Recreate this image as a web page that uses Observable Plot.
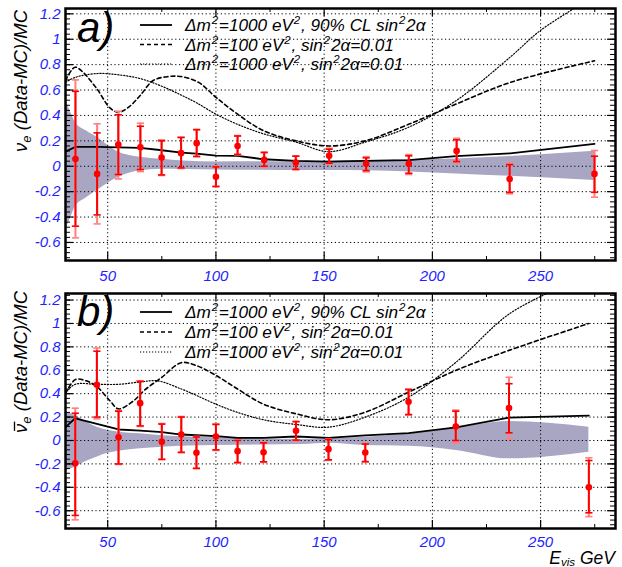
<!DOCTYPE html>
<html><head><meta charset="utf-8">
<script src="https://cdn.jsdelivr.net/npm/d3@7"></script>
<script src="https://cdn.jsdelivr.net/npm/@observablehq/plot@0.6"></script>
<style>
body{margin:0;background:#fff;}
#wrap{position:relative;width:622px;height:567px;overflow:hidden;background:#fff;}
#wrap svg{position:absolute;left:0;}
g[aria-label$="tick label"]{fill:#1f1fff;font-style:italic;}
</style></head><body><div id="wrap"></div>
<script>
// ---------- x ticks / y ticks ----------
const xMajor = [50, 100, 150, 200, 250];
const xMinor = [75, 125, 175, 225, 275];
const yMajor = [-0.6, -0.4, -0.2, 0, 0.2, 0.4, 0.6, 0.8, 1, 1.2];
const yMinor = d3.range(-0.72, 1.25, 0.04).map(v => Math.round(v * 100) / 100);

// ---------- panel a) nu_e ----------
const xA      = [35.1, 45.1, 54.9, 65.1, 74.9, 83.9, 91.1, 100, 110, 122.3, 136.9, 152.3, 169.4, 189.1, 211.2, 235.7, 274.9];
const yA      = [0.057, -0.06, 0.171, 0.15, 0.069, 0.103, 0.181, -0.083, 0.16, 0.05, 0.029, 0.082, 0.019, 0.019, 0.121, -0.1, -0.06];
const statLoA = [-0.472, -0.383, -0.065, -0.026, -0.068, -0.013, 0.078, -0.158, 0.094, 0.0, -0.024, 0.024, -0.034, -0.055, 0.037, -0.205, -0.205];
const statHiA = [0.59, 0.263, 0.405, 0.315, 0.2, 0.226, 0.287, -0.005, 0.238, 0.108, 0.079, 0.134, 0.066, 0.082, 0.208, 0.013, 0.079];
const totLoA  = [-0.564, -0.454, -0.1, -0.042, -0.073, -0.018, 0.074, -0.162, 0.09, -0.004, -0.028, 0.016, -0.044, -0.065, 0.027, -0.217, -0.244];
const totHiA  = [0.68, 0.334, 0.433, 0.339, 0.208, 0.23, 0.291, 0.0, 0.242, 0.112, 0.082, 0.142, 0.076, 0.092, 0.22, 0.024, 0.124];

const bandXA  = [30.5, 33, 35, 40, 45, 50, 55, 60, 65, 75, 85, 100, 120, 140, 152, 170, 190, 211, 236, 274.9];
const bandHiA = [0.53, 0.42, 0.347, 0.28, 0.23, 0.165, 0.11, 0.085, 0.071, 0.055, 0.042, 0.034, 0.035, 0.037, 0.04, 0.045, 0.05, 0.058, 0.076, 0.118];
const bandLoA = [-0.506, -0.4, -0.32, -0.25, -0.19, -0.135, -0.087, -0.055, -0.036, -0.024, -0.026, -0.03, -0.032, -0.034, -0.034, -0.036, -0.045, -0.06, -0.079, -0.113];

const solidA  = [[30.5,0.115],[35,0.152],[45,0.152],[55,0.148],[65,0.145],[74,0.128],[84,0.108],[91,0.1],[100,0.084],[110,0.082],[122,0.055],[137,0.042],[152,0.037],[169,0.043],[189,0.048],[211,0.08],[236,0.102],[274.9,0.176]];
const dashA   = [[30.5,0.675],[33,0.75],[35,0.78],[38,0.75],[45,0.61],[51,0.46],[55,0.425],[60,0.47],[65,0.557],[71,0.675],[78,0.706],[84,0.706],[92,0.66],[100,0.543],[110,0.41],[122,0.28],[137,0.2],[152,0.16],[169,0.2],[189,0.33],[211,0.49],[236,0.66],[274.9,0.83]];
const dotA    = [[30.5,0.66],[35,0.7],[45,0.73],[55,0.72],[65,0.69],[75,0.63],[84,0.56],[91,0.5],[100,0.41],[110,0.33],[122,0.255],[137,0.19],[152,0.115],[169,0.19],[189,0.307],[211,0.517],[236,0.86],[250,1.07],[274.9,1.34]];

// ---------- panel b) anti-nu_e ----------
const xB      = [35, 45, 55, 65, 75, 84, 91, 100, 110, 122, 137, 152, 169, 189, 210.8, 235.4, 272.3];
const yB      = [-0.194, 0.476, 0.028, 0.319, -0.011, 0.051, -0.105, 0.034, -0.091, -0.1, 0.083, -0.074, -0.103, 0.331, 0.12, 0.277, -0.4];
const statLoB = [-0.64, 0.2, -0.2, 0.125, -0.16, -0.1, -0.237, -0.08, -0.188, -0.182, 0.003, -0.165, -0.18, 0.222, 0.0, 0.066, -0.618];
const statHiB = [0.233, 0.763, 0.25, 0.505, 0.14, 0.2, 0.03, 0.137, 0.0, -0.02, 0.16, 0.01, -0.03, 0.435, 0.25, 0.485, -0.171];
const totLoB  = [-0.678, 0.185, -0.205, 0.12, -0.165, -0.105, -0.242, -0.085, -0.193, -0.187, -0.002, -0.17, -0.185, 0.217, -0.02, 0.011, -0.65];
const totHiB  = [0.276, 0.79, 0.256, 0.51, 0.145, 0.205, 0.035, 0.142, 0.005, -0.015, 0.165, 0.015, -0.025, 0.44, 0.26, 0.54, -0.148];

const bandXB  = [30.5, 35, 40, 45, 50, 55, 65, 75, 100, 120, 140, 152, 169, 189, 211, 235.4, 272.3];
const bandHiB = [0.245, 0.214, 0.16, 0.114, 0.088, 0.071, 0.057, 0.04, 0.023, 0.015, 0.009, 0.017, 0.028, 0.055, 0.105, 0.162, 0.114];
const bandLoB = [-0.256, -0.228, -0.18, -0.143, -0.11, -0.092, -0.071, -0.057, -0.043, -0.038, -0.034, -0.023, -0.043, -0.05, -0.085, -0.157, -0.1];

const solidB  = [[30.5,0.114],[35,0.19],[45,0.142],[55,0.094],[65,0.085],[75,0.071],[84,0.051],[100,0.037],[110,0.023],[122,0.023],[137,0.034],[152,0.023],[169,0.043],[189,0.063],[211,0.112],[235.4,0.196],[272.3,0.213]];
const dashB   = [[30.5,0.4],[35,0.52],[40,0.51],[45,0.46],[51,0.34],[55,0.27],[62,0.34],[67,0.43],[75,0.54],[84,0.665],[91,0.64],[100,0.556],[110,0.44],[122,0.31],[137,0.228],[152,0.177],[169,0.242],[189,0.413],[211,0.6],[235.4,0.77],[272.3,1.0]];
const dotB    = [[30.5,0.41],[35,0.48],[45,0.48],[55,0.48],[65,0.5],[73,0.51],[84,0.44],[91,0.385],[100,0.31],[110,0.24],[122,0.177],[137,0.137],[152,0.114],[169,0.2],[189,0.37],[211,0.67],[235.4,1.08],[258,1.3]];

// "^" marks a superscript character
const legendLabels = [
  "Δm^2=1000 eV^2, 90% CL sin^22α",
  "Δm^2=100 eV^2, sin^22α=0.01",
  "Δm^2=1000 eV^2, sin^22α=0.01"
];

// ---------- drawing ----------
const BLUE = "#1f1fff";
const RED = "#ff0000";
const PALE = "#ff7f7f";
const BAND = "#a8a6c2";
const FONT = "'Liberation Sans', Arial, Helvetica, sans-serif";
const W = 622, ML = 65, MR = 7;
const cap = {draw(ctx, size) { const w = Math.sqrt(size / Math.PI); ctx.moveTo(-w, 0); ctx.lineTo(w, 0); }};
const fmtY = d => String(Math.round(d * 10) / 10);

function panel({xs, ys, sLo, sHi, tLo, tHi, bx, bHi, bLo, solid, dash, dot, height, mb, yDomain, xPad}) {
  const pts = xs.map((x, i) => ({x, y: ys[i], sLo: sLo[i], sHi: sHi[i], tLo: tLo[i], tHi: tHi[i]}));
  const band = bx.map((x, i) => ({x, hi: bHi[i], lo: bLo[i]}));
  const pw = W - ML - MR, ph = height - 8 - mb;
  return Plot.plot({
    width: W, height, marginTop: 8, marginBottom: mb, marginLeft: ML, marginRight: MR,
    x: {domain: [30.5, 284.6]},
    y: {domain: yDomain},
    style: {fontFamily: FONT, background: "white", overflow: "visible"},
    marks: [
      Plot.areaY(band, {x: "x", y1: "lo", y2: "hi", fill: BAND, curve: "monotone-x"}),
      Plot.ruleY(yMajor, {stroke: "#000", strokeWidth: 1, strokeDasharray: "1.2,2.6"}),
      Plot.ruleX(xMajor, {stroke: "#000", strokeWidth: 1, strokeDasharray: "1.2,2.6"}),
      Plot.line(dot, {x: d => d[0], y: d => d[1], stroke: "#000", strokeWidth: 1.2, strokeDasharray: "1.2,1.8", curve: "catmull-rom", clip: true}),
      Plot.line(dash, {x: d => d[0], y: d => d[1], stroke: "#000", strokeWidth: 1.6, strokeDasharray: "4,3", curve: "catmull-rom", clip: true}),
      Plot.line(solid, {x: d => d[0], y: d => d[1], stroke: "#000", strokeWidth: 1.8, clip: true}),
      Plot.ruleX(pts, {x: "x", y1: "tLo", y2: "tHi", stroke: PALE, strokeWidth: 2}),
      Plot.dot(pts, {x: "x", y: "tHi", symbol: cap, r: 3.6, stroke: PALE, strokeWidth: 1.6}),
      Plot.dot(pts, {x: "x", y: "tLo", symbol: cap, r: 3.6, stroke: PALE, strokeWidth: 1.6}),
      Plot.ruleX(pts, {x: "x", y1: "sLo", y2: "sHi", stroke: RED, strokeWidth: 2}),
      Plot.dot(pts, {x: "x", y: "sHi", symbol: cap, r: 3.6, stroke: RED, strokeWidth: 1.6}),
      Plot.dot(pts, {x: "x", y: "sLo", symbol: cap, r: 3.6, stroke: RED, strokeWidth: 1.6}),
      Plot.dot(pts, {x: "x", y: "y", r: 3.3, fill: RED}),
      // inward ticks, all four sides
      Plot.tickY(yMajor, {y: d => d, insetRight: pw - 8, stroke: "#000", strokeWidth: 1.2}),
      Plot.tickY(yMinor, {y: d => d, insetRight: pw - 5, stroke: "#000", strokeWidth: 1}),
      Plot.tickY(yMajor, {y: d => d, insetLeft: pw - 8, stroke: "#000", strokeWidth: 1.2}),
      Plot.tickY(yMinor, {y: d => d, insetLeft: pw - 5, stroke: "#000", strokeWidth: 1}),
      Plot.tickX(xMajor, {x: d => d, insetTop: ph - 8, stroke: "#000", strokeWidth: 1.2}),
      Plot.tickX(xMinor, {x: d => d, insetTop: ph - 4, stroke: "#000", strokeWidth: 1}),
      Plot.tickX(xMajor, {x: d => d, insetBottom: ph - 8, stroke: "#000", strokeWidth: 1.2}),
      Plot.tickX(xMinor, {x: d => d, insetBottom: ph - 4, stroke: "#000", strokeWidth: 1}),
      Plot.frame({stroke: "#000", strokeWidth: 2.5}),
      Plot.axisY({ticks: yMajor, tickSize: 0, tickPadding: 5, tickFormat: fmtY, color: BLUE, fontSize: 15, fontStyle: "italic", label: null}),
      Plot.axisX({ticks: xMajor, tickSize: 0, tickPadding: xPad, tickFormat: d => String(d), color: BLUE, fontSize: 15, fontStyle: "italic", label: null})
    ]
  });
}

const wrap = document.getElementById("wrap");
const pa = panel({xs: xA, ys: yA, sLo: statLoA, sHi: statHiA, tLo: totLoA, tHi: totHiA,
  bx: bandXA, bHi: bandHiA, bLo: bandLoA, solid: solidA, dash: dashA, dot: dotA,
  height: 285, mb: 25, yDomain: [-0.742, 1.242], xPad: 10});
pa.style.top = "0px";
wrap.appendChild(pa);
const pb = panel({xs: xB, ys: yB, sLo: statLoB, sHi: statHiB, tLo: totLoB, tHi: totHiB,
  bx: bandXB, bHi: bandHiB, bLo: bandLoB, solid: solidB, dash: dashB, dot: dotB,
  height: 282, mb: 39, yDomain: [-0.752, 1.256], xPad: 8});
pb.style.top = "285px";
wrap.appendChild(pb);

// ---------- text overlay: titles, panel labels, legends ----------
const NS = "http://www.w3.org/2000/svg";
const ov = document.createElementNS(NS, "svg");
ov.setAttribute("width", W); ov.setAttribute("height", 567);
ov.style.top = "0px"; ov.style.pointerEvents = "none";
ov.setAttribute("font-family", FONT);
ov.setAttribute("font-style", "italic");
wrap.appendChild(ov);

function el(tag, attrs, parent) {
  const e = document.createElementNS(NS, tag);
  for (const k in attrs) e.setAttribute(k, attrs[k]);
  (parent || ov).appendChild(e);
  return e;
}
function supText(parent, str, supSize) {
  const parts = str.split("^");
  parts.forEach((p, i) => {
    if (i === 0) { el("tspan", {}, parent).textContent = p; return; }
    const s = el("tspan", {dx: 0.8, dy: -7, "font-size": supSize}, parent); s.textContent = p[0];
    const r = el("tspan", {dx: 0.8, dy: 7}, parent); r.textContent = p.slice(1);
  });
}
function legend(rowsY) {
  const dashes = [null, "4,3", "1.2,1.8"];
  const widths = [1.8, 1.6, 1.2];
  rowsY.forEach((cy, i) => {
    const l = el("line", {x1: 140, x2: 172, y1: cy, y2: cy, stroke: "#000", "stroke-width": widths[i]});
    if (dashes[i]) l.setAttribute("stroke-dasharray", dashes[i]);
    const t = el("text", {x: 185, y: cy + 6, "font-size": 17.2, fill: "#000"});
    supText(t, legendLabels[i], 11.5);
  });
}
legend([25, 44.5, 64]);
legend([312, 332, 352]);

el("text", {x: 77, y: 42, "font-size": 42, fill: "#000"}).textContent = "a)";
el("text", {x: 77, y: 326, "font-size": 42, fill: "#000"}).textContent = "b)";

function ytitle(x, yTop, bar) {
  const g = el("g", {transform: `translate(${x},${yTop}) rotate(-90)`});
  const t = el("text", {"text-anchor": "end", "font-size": 18.5, fill: "#000"}, g);
  const nu = el("tspan", {}, t); nu.textContent = "ν";
  const e = el("tspan", {dy: 4, "font-size": 13}, t); e.textContent = "e";
  const r = el("tspan", {dy: -4}, t); r.textContent = " (Data-MC)/MC";
  if (bar) {
    const a = t.getStartPositionOfChar(0), b = t.getEndPositionOfChar(0);
    el("line", {x1: a.x + 2, x2: b.x + 2, y1: -12.5, y2: -12.5, stroke: "#000", "stroke-width": 1.3}, g);
  }
}
ytitle(27, 10, false);
ytitle(27, 291, true);

const xt = el("text", {x: 615, y: 564, "text-anchor": "end", "font-size": 17.5, fill: "#000"});
el("tspan", {}, xt).textContent = "E";
el("tspan", {dy: 2, "font-size": 11.5}, xt).textContent = "vis";
el("tspan", {dy: -2}, xt).textContent = " GeV";
</script></body></html>
